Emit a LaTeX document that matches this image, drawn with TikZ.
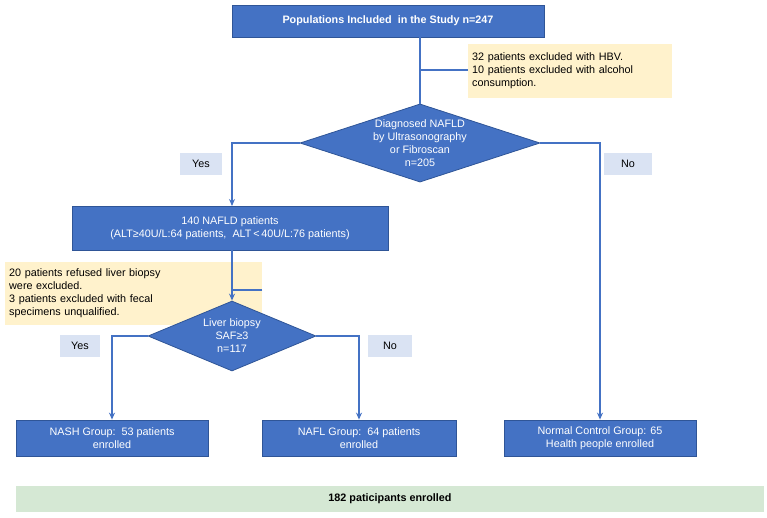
\documentclass[tikz,border=0pt]{standalone}
\usepackage{fontspec}
\setmainfont{Liberation Sans}
\usetikzlibrary{shapes.geometric,arrows.meta}
\definecolor{bfill}{HTML}{4472C4}
\definecolor{bdraw}{HTML}{2F5597}
\definecolor{yfill}{HTML}{FFF2CC}
\definecolor{lfill}{HTML}{DAE3F3}
\definecolor{gfill}{HTML}{D5E8D4}
\begin{document}
\begin{tikzpicture}[x=1pt,y=-1pt,
  every node/.style={font=\fontsize{10.8}{13}\selectfont, inner sep=1pt},
  bbox/.style={draw=bdraw, fill=bfill, text=white, align=center, line width=0.8pt},
  ybox/.style={fill=yfill, align=left, anchor=north west, text width=#1, inner sep=4pt},
  lbox/.style={fill=lfill, minimum width=42pt, minimum height=22pt},
  dia/.style={diamond, draw=bdraw, fill=bfill, text=white, align=center, aspect=3, inner sep=0pt, line width=0.8pt},
  ln/.style={draw=bfill, line width=1.2pt},
  ar/.style={ln, -{Stealth[length=7pt,width=6pt]}}]
\useasboundingbox (0,0) rectangle (767,517);
\node[bbox, minimum width=312pt, minimum height=32pt, font=\fontsize{10.8}{13}\selectfont\bfseries] (top) at (388,21) {Populations Included\ \ in the Study n=247};
\node[ybox=196pt, minimum height=54pt] (ex1) at (468,44) {32 patients excluded with HBV.\\10 patients excluded with alcohol\\consumption.};
\node[dia, minimum width=240pt, minimum height=78pt] (d1) at (420,143) {Diagnosed NAFLD\\by Ultrasonography\\or Fibroscan\\n=205};
\node[lbox] (y1) at (201,164) {Yes};
\node[lbox, minimum width=48pt] (n1) at (628,164) {No};
\node[bbox, minimum width=316pt, minimum height=44pt] (b140) at (230,228) {140 NAFLD patients\\(ALT≥40U/L:64 patients,\ \ ALT\,<\,40U/L:76 patients)};
\node[ybox=249pt, minimum height=63pt] (ex2) at (5,262) {20 patients refused liver biopsy\\were excluded.\\3 patients excluded with fecal\\specimens unqualified.};
\node[dia, minimum width=168pt, minimum height=70pt] (d2) at (232,336) {Liver biopsy\\SAF≥3\\n=117};
\node[lbox, minimum width=40pt] (y2) at (80,346) {Yes};
\node[lbox, minimum width=44pt] (n2) at (390,346) {No};
\node[bbox, minimum width=192pt, minimum height=36pt] (nash) at (112,438) {NASH Group:\ \ 53 patients\\enrolled};
\node[bbox, minimum width=194pt, minimum height=36pt] (nafl) at (359,438) {NAFL Group:\ \ 64 patients\\enrolled};
\node[bbox, minimum width=192pt, minimum height=36pt] (nc) at (600,438) {Normal Control Group: 65\\Health people enrolled};
\node[fill=gfill, minimum width=748pt, minimum height=26pt, font=\fontsize{10.8}{13}\selectfont\bfseries] (tot) at (390,499) {182 paticipants enrolled};
\coordinate (j1) at (420,70);
\coordinate (j2) at (232,290);
\draw[ln] (top.south -| d1.north) -- (d1.north);
\draw[ln] (j1) -- (j1 -| ex1.west);
\draw[ar] (d1.west) -| (232,206);
\draw[ar] (d1.east) -| (nc.north);
\draw[ar] (232,250) -- (d2.north);
\draw[ln] (j2 -| ex2.east) -- (j2);
\draw[ar] (d2.west) -| (nash.north);
\draw[ar] (d2.east) -| (nafl.north);
\end{tikzpicture}
\end{document}
